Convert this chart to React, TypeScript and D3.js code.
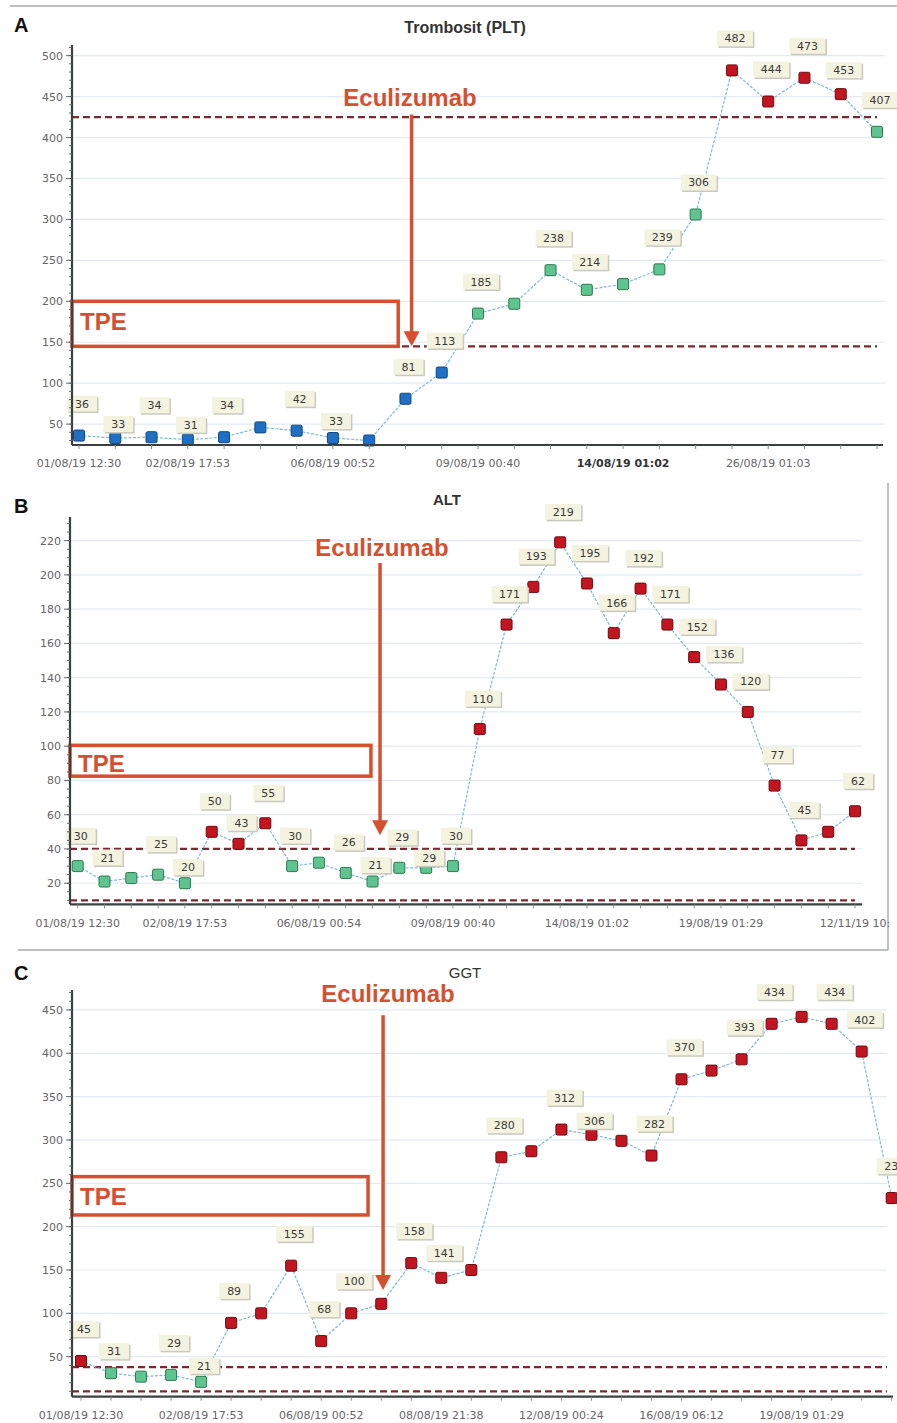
import React from 'react';
import * as d3 from 'd3';

// ---------- DATA ----------
const pltValues = [36, 33, 34, 31, 34, 46, 42, 33, 30, 81, 113, 185, 197, 238, 214, 221, 239, 306, 482, 444, 473, 453, 407];
const pltStatus = ['low', 'low', 'low', 'low', 'low', 'low', 'low', 'low', 'low', 'low', 'low',
  'normal', 'normal', 'normal', 'normal', 'normal', 'normal', 'normal', 'high', 'high', 'high', 'high', 'normal'];
const pltUnlabeled = [5, 8, 12, 15];
const pltTicks = [50, 100, 150, 200, 250, 300, 350, 400, 450, 500];
const pltRefLines = [425, 145];
const pltDates = [
  { i: 0, text: '01/08/19 12:30' }, { i: 3, text: '02/08/19 17:53' }, { i: 7, text: '06/08/19 00:52' },
  { i: 11, text: '09/08/19 00:40' }, { i: 15, text: '14/08/19 01:02', bold: true }, { i: 19, text: '26/08/19 01:03' },
];

const altValues = [30, 21, 23, 25, 20, 50, 43, 55, 30, 32, 26, 21, 29, 29, 30, 110, 171, 193, 219, 195, 166, 192, 171, 152, 136, 120, 77, 45, 50, 62];
const altStatus = ['normal', 'normal', 'normal', 'normal', 'normal', 'high', 'high', 'high',
  'normal', 'normal', 'normal', 'normal', 'normal', 'normal', 'normal',
  'high', 'high', 'high', 'high', 'high', 'high', 'high', 'high', 'high', 'high', 'high', 'high', 'high', 'high', 'high'];
const altUnlabeled = [2, 9, 28];
const altTicks = [20, 40, 60, 80, 100, 120, 140, 160, 180, 200, 220];
const altRefLines = [40, 10];
const altDates = [
  { i: 0, text: '01/08/19 12:30' }, { i: 4, text: '02/08/19 17:53' }, { i: 9, text: '06/08/19 00:54' },
  { i: 14, text: '09/08/19 00:40' }, { i: 19, text: '14/08/19 01:02' }, { i: 24, text: '19/08/19 01:29' },
  { i: 29, text: '12/11/19 10:' },
];

const ggtValues = [45, 31, 27, 29, 21, 89, 100, 155, 68, 100, 111, 158, 141, 150, 280, 287, 312, 306, 299, 282, 370, 380, 393, 434, 442, 434, 402, 233];
const ggtStatus = ['high', 'normal', 'normal', 'normal', 'normal',
  'high', 'high', 'high', 'high', 'high', 'high', 'high', 'high', 'high', 'high', 'high', 'high', 'high', 'high',
  'high', 'high', 'high', 'high', 'high', 'high', 'high', 'high', 'high'];
const ggtUnlabeled = [2, 6, 10, 13, 15, 18, 21, 24];
const ggtTicks = [50, 100, 150, 200, 250, 300, 350, 400, 450];
const ggtRefLines = [38, 10];
const ggtDates = [
  { i: 0, text: '01/08/19 12:30' }, { i: 4, text: '02/08/19 17:53' }, { i: 8, text: '06/08/19 00:52' },
  { i: 12, text: '08/08/19 21:38' }, { i: 16, text: '12/08/19 00:24' }, { i: 20, text: '16/08/19 06:12' },
  { i: 24, text: '19/08/19 01:29' },
];

// ---------- STYLE ----------
const RED = '#d6502f';
const FONT = '"DejaVu Sans", Verdana, sans-serif';
const ARIAL = '"Liberation Sans", Arial, sans-serif';
const markerFill: Record<string, string> = { low: '#1f6fc4', normal: '#5fc48f', high: '#c3151f' };
const markerStroke: Record<string, string> = { low: '#10457e', normal: '#2b7a4e', high: '#6e0a10' };

type Cfg = {
  letter: string; letterY: number;
  title: string; titleX: number; titleY: number; titleSize: number; titleWeight: number;
  values: number[]; status: string[]; unlabeled: number[];
  yDomain: [number, number]; yRange: [number, number];
  xFirst: number; xLast: number; axisX: number; axisEnd: number; gridEnd: number; refEnd: number;
  ticks: number[]; minorPer: number;
  dates: { i: number; text: string; bold?: boolean }[]; dateY: number;
  refLines: number[];
  tpe: { top: number; bottom: number; endIdx: number; textY: number };
  arrow: { idx: number; from: number; to: number; textValue: number; textX: number };
  labelLift: number; labelLiftAt: Record<number, number>;
};

const panels: Cfg[] = [
  {
    letter: 'A', letterY: 32, title: 'Trombosit (PLT)', titleX: 465, titleY: 33, titleSize: 16, titleWeight: 700,
    values: pltValues, status: pltStatus, unlabeled: pltUnlabeled,
    yDomain: [24.5, 513], yRange: [445, 45], xFirst: 79, xLast: 877, axisX: 72, axisEnd: 883, gridEnd: 885, refEnd: 877,
    ticks: pltTicks, minorPer: 5, dates: pltDates, dateY: 467, refLines: pltRefLines,
    tpe: { top: 200, bottom: 145, endIdx: 8.8, textY: 330 },
    arrow: { idx: 9.17, from: 428, to: 145, textValue: 438, textX: 410 },
    labelLift: 32, labelLiftAt: { 1: 14, 3: 15, 7: 17, 14: 28, 21: 24 },
  },
  {
    letter: 'B', letterY: 513, title: 'ALT', titleX: 447, titleY: 505, titleSize: 15, titleWeight: 700,
    values: altValues, status: altStatus, unlabeled: altUnlabeled,
    yDomain: [7.7, 233.8], yRange: [904.3, 517], xFirst: 77.7, xLast: 855, axisX: 70, axisEnd: 862, gridEnd: 862, refEnd: 855,
    ticks: altTicks, minorPer: 4, dates: altDates, dateY: 927, refLines: altRefLines,
    tpe: { top: 100.5, bottom: 82.5, endIdx: 10.94, textY: 772 },
    arrow: { idx: 11.28, from: 207, to: 48, textValue: 211, textX: 382 },
    labelLift: 30.5, labelLiftAt: { 1: 24, 4: 16, 6: 21, 11: 16.5, 13: 10 },
  },
  {
    letter: 'C', letterY: 980, title: 'GGT', titleX: 465, titleY: 978, titleSize: 15, titleWeight: 400,
    values: ggtValues, status: ggtStatus, unlabeled: ggtUnlabeled,
    yDomain: [3.85, 473], yRange: [1396.7, 990], xFirst: 81, xLast: 891.7, axisX: 72, axisEnd: 893, gridEnd: 887, refEnd: 887,
    ticks: ggtTicks, minorPer: 5, dates: ggtDates, dateY: 1419, refLines: ggtRefLines,
    tpe: { top: 257.7, bottom: 213.5, endIdx: 9.56, textY: 1205 },
    arrow: { idx: 10.06, from: 444, to: 127, textValue: 459, textX: 388 },
    labelLift: 32, labelLiftAt: { 1: 22, 4: 16, 12: 25, 17: 14 },
  },
];

function Panel({ c, k }: { c: Cfg; k: number }) {
  const n = c.values.length;
  const x = d3.scaleLinear().domain([0, n - 1]).range([c.xFirst, c.xLast]);
  const y = d3.scaleLinear().domain(c.yDomain).range(c.yRange);
  const line = d3.line<number>().x((_, i) => x(i)).y((v) => y(v));
  const step = c.ticks[1] - c.ticks[0];
  const minor: number[] = [];
  for (let v = c.ticks[0] - step; v <= c.yDomain[1]; v += step / c.minorPer) {
    if (v >= c.yDomain[0]) minor.push(v);
  }
  const bottom = c.yRange[0];
  const ax = x(c.arrow.idx);
  const tipY = y(c.arrow.to);
  return (
    <g>
      <text x={14} y={c.letterY} fontFamily={ARIAL} fontWeight={700} fontSize={20} fill="#111">{c.letter}</text>
      <text x={c.titleX} y={c.titleY} textAnchor="middle" fontFamily={ARIAL} fontWeight={c.titleWeight} fontSize={c.titleSize} fill="#333">{c.title}</text>
      {c.ticks.map((t) => (
        <line key={'g' + t} x1={c.axisX} x2={c.gridEnd} y1={y(t)} y2={y(t)} stroke="#e2ebf2" strokeWidth={1.2} />
      ))}
      {c.refLines.map((r) => (
        <line key={'r' + r} x1={c.axisX} x2={c.refEnd} y1={y(r)} y2={y(r)} stroke="#7a2a2e" strokeWidth={2.2} strokeDasharray="7 4" />
      ))}
      <rect x={c.axisX} y={y(c.tpe.top)} width={x(c.tpe.endIdx) - c.axisX} height={y(c.tpe.bottom) - y(c.tpe.top)}
        fill="none" stroke={RED} strokeWidth={3.5} />
      <text x={c.axisX + 8} y={c.tpe.textY} fontFamily={ARIAL} fontWeight={700} fontSize={24} fill={RED}>TPE</text>
      <path d={line(c.values) || ''} fill="none" stroke="#7db9d8" strokeWidth={1.2} strokeDasharray="3 1.5" />
      {c.values.map((v, i) => (
        <rect key={'m' + i} x={x(i) - 5.5} y={y(v) - 5.5} width={11} height={11} rx={1.5}
          fill={markerFill[c.status[i]]} stroke={markerStroke[c.status[i]]} strokeWidth={1} />
      ))}
      {c.values.map((v, i) => {
        if (c.unlabeled.includes(i)) return null;
        const lift = c.labelLiftAt[i] ?? c.labelLift;
        const w = String(v).length > 2 ? 36 : 30;
        const h = 16;
        const cx = x(i) + 3;
        const cy = y(v) - lift;
        return (
          <g key={'l' + i}>
            <rect x={cx - w / 2 + 1.5} y={cy - h / 2 + 1.5} width={w} height={h} fill="#c9c9bf" />
            <rect x={cx - w / 2} y={cy - h / 2} width={w} height={h} fill="#f3f3df" />
            <text x={cx} y={cy + 4} textAnchor="middle" fontFamily={FONT} fontSize={11} fill="#3a3a3a">{v}</text>
          </g>
        );
      })}
      {/* y axis */}
      <line x1={c.axisX} x2={c.axisX} y1={c.yRange[1]} y2={bottom} stroke="#3a4040" strokeWidth={2.2} />
      {minor.map((m, i) => (
        <line key={'mi' + i} x1={c.axisX - 3} x2={c.axisX} y1={y(m)} y2={y(m)} stroke="#666" strokeWidth={1} />
      ))}
      {c.ticks.map((t) => (
        <g key={'t' + t}>
          <line x1={c.axisX - 6} x2={c.axisX} y1={y(t)} y2={y(t)} stroke="#666" strokeWidth={1} />
          <text x={c.axisX - 9} y={y(t) + 4} textAnchor="end" fontFamily={FONT} fontSize={11} fill="#666">{t}</text>
        </g>
      ))}
      {/* x axis */}
      <line x1={c.axisX} x2={c.axisEnd} y1={bottom} y2={bottom} stroke="#3a4040" strokeWidth={2.2} />
      {c.values.map((_, i) => (
        <line key={'xt' + i} x1={x(i)} x2={x(i)} y1={bottom} y2={bottom + 4} stroke="#888" strokeWidth={1} />
      ))}
      <clipPath id={'clip' + k}><rect x={0} y={0} width={891} height={1423} /></clipPath>
      {c.dates.map((d) => (
        <text key={'d' + d.i} x={x(d.i)} y={c.dateY} textAnchor="middle" fontFamily={FONT} fontSize={11}
          fontWeight={d.bold ? 700 : 400} fill={d.bold ? '#333' : '#666'} clipPath={`url(#clip${k})`}>{d.text}</text>
      ))}
      {/* Eculizumab arrow */}
      <line x1={ax} x2={ax} y1={y(c.arrow.from)} y2={tipY - 12} stroke={RED} strokeWidth={3.5} />
      <path d={`M${ax - 8},${tipY - 15} L${ax + 8},${tipY - 15} L${ax},${tipY} Z`} fill={RED} />
      <text x={c.arrow.textX} y={y(c.arrow.textValue)} textAnchor="middle" fontFamily={ARIAL} fontWeight={700} fontSize={24} fill={RED}>Eculizumab</text>
    </g>
  );
}

export default function App() {
  return (
    <svg width={897} height={1423} style={{ position: 'absolute', left: 0, top: 0, background: '#fff' }}>
      <rect x={0} y={0} width={897} height={1423} fill="#fff" />
      <line x1={10} x2={897} y1={6} y2={6} stroke="#a9adb0" strokeWidth={1.5} />
      <line x1={888} x2={888} y1={483} y2={950} stroke="#a9adb0" strokeWidth={1.5} />
      <line x1={18} x2={888} y1={950} y2={950} stroke="#a9adb0" strokeWidth={1.5} />
      {panels.map((c, k) => <Panel key={c.letter} c={c} k={k} />)}
    </svg>
  );
}
